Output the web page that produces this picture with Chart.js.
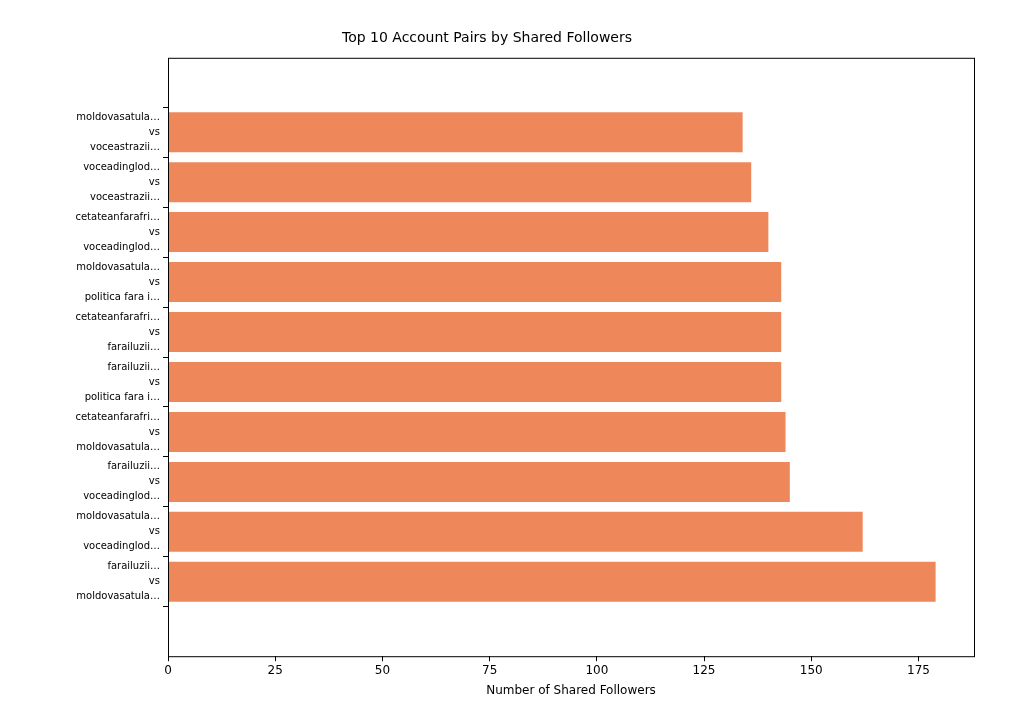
<!DOCTYPE html>
<html><head><meta charset="utf-8">
<script src="https://cdn.jsdelivr.net/npm/chart.js@4"></script>
<style>html,body{margin:0;padding:0;background:#fff}#w{width:1024px;height:716px}</style>
</head><body><div id="w"><canvas id="c"></canvas></div>
<script>
const firstAccounts = ["moldovasatula…","voceadinglod…","cetateanfarafri…","moldovasatula…","cetateanfarafri…","farailuzii…","cetateanfarafri…","farailuzii…","moldovasatula…","farailuzii…"];
const secondAccounts = ["voceastrazii…","voceastrazii…","voceadinglod…","politica fara i…","farailuzii…","politica fara i…","moldovasatula…","voceadinglod…","voceadinglod…","moldovasatula…"];
const sharedFollowers = [134,136,140,143,143,143,144,145,162,179];
const xTicks = [0,25,50,75,100,125,150,175];

const font = "'DejaVu Sans', sans-serif";
const boxPlugin = {id:'box', afterDraw(ch){const a=ch.chartArea,c=ch.ctx;c.save();c.strokeStyle='#000';c.lineWidth=1;c.strokeRect(a.left+0.5,a.top+0.5,a.right-a.left,a.bottom-a.top);c.restore();}};
new Chart(document.getElementById('c'),{
  type:'bar',
  data:{datasets:[{data:sharedFollowers.map((v,i)=>({x:v,y:i})),backgroundColor:'#ee885b',borderWidth:0,barPercentage:0.8,categoryPercentage:1}]},
  plugins:[boxPlugin],
  options:{
    indexAxis:'y',responsive:true,maintainAspectRatio:false,animation:false,
    layout:{padding:{left:0,right:50,top:0,bottom:14}},
    plugins:{legend:{display:false},tooltip:{enabled:false},
      title:{display:true,text:'Top 10 Account Pairs by Shared Followers',color:'#000',font:{family:font,size:14,weight:'normal'},padding:{top:30,bottom:11}}},
    scales:{
      x:{type:'linear',min:0,max:187.95,
        afterBuildTicks(s){s.ticks=xTicks.map(v=>({value:v}));},
        grid:{drawOnChartArea:false,color:'#000',tickLength:5},border:{display:false},
        ticks:{color:'#000',font:{family:font,size:12},padding:2},
        title:{display:true,text:'Number of Shared Followers',color:'#000',font:{family:font,size:12},padding:{top:4}}},
      y:{type:'linear',reverse:true,min:-0.89,max:9.89,
        afterBuildTicks(s){s.ticks=sharedFollowers.map((v,i)=>({value:i}));},
        afterFit(s){s.width=168;},
        grid:{drawOnChartArea:false,color:'#000',tickLength:5},border:{display:false},
        ticks:{color:'#000',font:{family:font,size:10,lineHeight:1.5},padding:3,
          callback:(v)=>[firstAccounts[v],'vs',secondAccounts[v]]}}
    }
  }
});
</script></body></html>
